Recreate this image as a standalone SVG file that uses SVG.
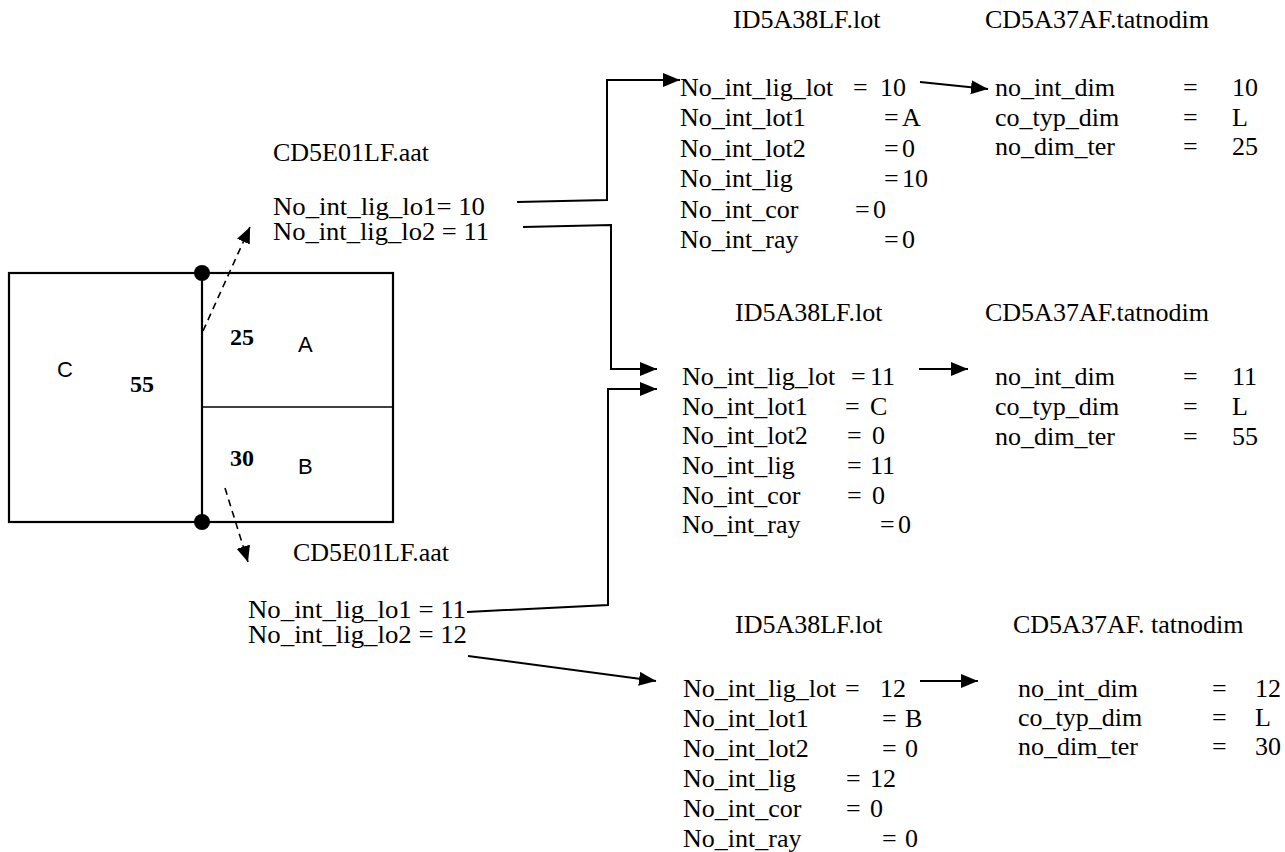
<svg xmlns="http://www.w3.org/2000/svg" width="1285" height="852" viewBox="0 0 1285 852">
<style>
text{font-family:"Liberation Serif","Times New Roman",serif;font-size:26px;fill:#000}
.s{font-family:"Liberation Sans",Arial,sans-serif;font-size:22px}
.b{font-weight:bold;font-size:24px}
.l{font-size:25px}
.ln{fill:none;stroke:#000;stroke-width:2}
.da{fill:none;stroke:#000;stroke-width:1.6;stroke-dasharray:7,5}
</style>
<defs>
<marker id="ah" markerUnits="userSpaceOnUse" markerWidth="19" markerHeight="16" refX="17" refY="7" orient="auto">
<path d="M0,0 L17,7 L0,14 Z" fill="#000"/>
</marker>
<marker id="ahs" markerUnits="userSpaceOnUse" markerWidth="18" markerHeight="16" refX="16" refY="7" orient="auto">
<path d="M0,0 L16,7 L0,14 Z" fill="#000"/>
</marker>
</defs>
<rect width="1285" height="852" fill="#fff"/>

<g id="plan">
<rect x="9" y="273" width="384" height="249" fill="none" stroke="#000" stroke-width="2.2"/>
<line x1="202" y1="273" x2="202" y2="522" stroke="#000" stroke-width="2.2"/>
<line x1="202" y1="407" x2="393" y2="407" stroke="#000" stroke-width="1.6"/>
<circle cx="202" cy="273" r="8"/>
<circle cx="202" cy="522" r="8"/>
<text class="s" x="57" y="377">C</text>
<text class="b" x="130" y="392">55</text>
<text class="b" x="230" y="345">25</text>
<text class="s" x="298" y="352">A</text>
<text class="b" x="230" y="466">30</text>
<text class="s" x="298" y="474">B</text>
</g>

<g id="aat1">
<text x="273" y="161">CD5E01LF.aat</text>
<text class="l" x="273" y="215" textLength="212" lengthAdjust="spacingAndGlyphs">No_int_lig_lo1= 10</text>
<text class="l" x="273" y="240" textLength="216" lengthAdjust="spacingAndGlyphs">No_int_lig_lo2 = 11</text>
</g>

<g id="aat2">
<text x="293" y="561">CD5E01LF.aat</text>
<text class="l" x="248" y="618" textLength="218" lengthAdjust="spacingAndGlyphs">No_int_lig_lo1 = 11</text>
<text class="l" x="248" y="643" textLength="219" lengthAdjust="spacingAndGlyphs">No_int_lig_lo2 = 12</text>
</g>

<g id="lot1">
<text x="733" y="28">ID5A38LF.lot</text>
<text x="680" y="96">No_int_lig_lot</text><text x="853" y="96">=</text><text x="880" y="96">10</text>
<text x="680" y="126">No_int_lot1</text><text x="884" y="126">=</text><text x="902" y="126">A</text>
<text x="680" y="157">No_int_lot2</text><text x="884" y="157">=</text><text x="902" y="157">0</text>
<text x="680" y="187">No_int_lig</text><text x="884" y="187">=</text><text x="902" y="187">10</text>
<text x="680" y="218">No_int_cor</text><text x="855" y="218">=</text><text x="873" y="218">0</text>
<text x="680" y="248">No_int_ray</text><text x="884" y="248">=</text><text x="902" y="248">0</text>
</g>

<g id="dim1">
<text x="985" y="28">CD5A37AF.tatnodim</text>
<text x="995" y="96">no_int_dim</text><text x="1183" y="96">=</text><text x="1232" y="96">10</text>
<text x="995" y="126">co_typ_dim</text><text x="1183" y="126">=</text><text x="1232" y="126">L</text>
<text x="995" y="155">no_dim_ter</text><text x="1183" y="155">=</text><text x="1232" y="155">25</text>
</g>

<g id="lot2">
<text x="735" y="321">ID5A38LF.lot</text>
<text x="682" y="385">No_int_lig_lot</text><text x="851" y="385">=</text><text x="870" y="385">11</text>
<text x="682" y="415">No_int_lot1</text><text x="845" y="415">=</text><text x="870" y="415">C</text>
<text x="682" y="444">No_int_lot2</text><text x="847" y="444">=</text><text x="872" y="444">0</text>
<text x="682" y="474">No_int_lig</text><text x="847" y="474">=</text><text x="870" y="474">11</text>
<text x="682" y="504">No_int_cor</text><text x="847" y="504">=</text><text x="872" y="504">0</text>
<text x="682" y="533">No_int_ray</text><text x="880" y="533">=</text><text x="898" y="533">0</text>
</g>

<g id="dim2">
<text x="985" y="321">CD5A37AF.tatnodim</text>
<text x="995" y="385">no_int_dim</text><text x="1183" y="385">=</text><text x="1232" y="385">11</text>
<text x="995" y="415">co_typ_dim</text><text x="1183" y="415">=</text><text x="1232" y="415">L</text>
<text x="995" y="445">no_dim_ter</text><text x="1183" y="445">=</text><text x="1232" y="445">55</text>
</g>

<g id="lot3">
<text x="735" y="633">ID5A38LF.lot</text>
<text x="683" y="697">No_int_lig_lot</text><text x="845" y="697">=</text><text x="880" y="697">12</text>
<text x="683" y="727">No_int_lot1</text><text x="882" y="727">=</text><text x="905" y="727">B</text>
<text x="683" y="757">No_int_lot2</text><text x="882" y="757">=</text><text x="905" y="757">0</text>
<text x="683" y="787">No_int_lig</text><text x="846" y="787">=</text><text x="870" y="787">12</text>
<text x="683" y="817">No_int_cor</text><text x="846" y="817">=</text><text x="870" y="817">0</text>
<text x="683" y="847">No_int_ray</text><text x="882" y="847">=</text><text x="905" y="847">0</text>
</g>

<g id="dim3">
<text x="1013" y="633">CD5A37AF. tatnodim</text>
<text x="1018" y="697">no_int_dim</text><text x="1212" y="697">=</text><text x="1255" y="697">12</text>
<text x="1018" y="726">co_typ_dim</text><text x="1212" y="726">=</text><text x="1255" y="726">L</text>
<text x="1018" y="755">no_dim_ter</text><text x="1212" y="755">=</text><text x="1255" y="755">30</text>
</g>

<g id="connectors">
<path class="ln" d="M517,202 L607,200 L607,80 L680,80" marker-end="url(#ah)"/>
<path class="ln" d="M523,227 L611,225 L611,369 L657,369" marker-end="url(#ah)"/>
<path class="ln" d="M467,612 L608,605 L608,389 L657,389" marker-end="url(#ah)"/>
<path class="ln" d="M468,656 L656,681" marker-end="url(#ah)"/>
<path class="ln" d="M920,82 L988,89" marker-end="url(#ah)"/>
<path class="ln" d="M919,369 L968,369" marker-end="url(#ah)"/>
<path class="ln" d="M920,681 L978,681" marker-end="url(#ah)"/>
<path class="da" d="M203,331 L250,227" marker-end="url(#ahs)"/>
<path class="da" d="M225,488 L248,562" marker-end="url(#ahs)"/>
</g>
</svg>
